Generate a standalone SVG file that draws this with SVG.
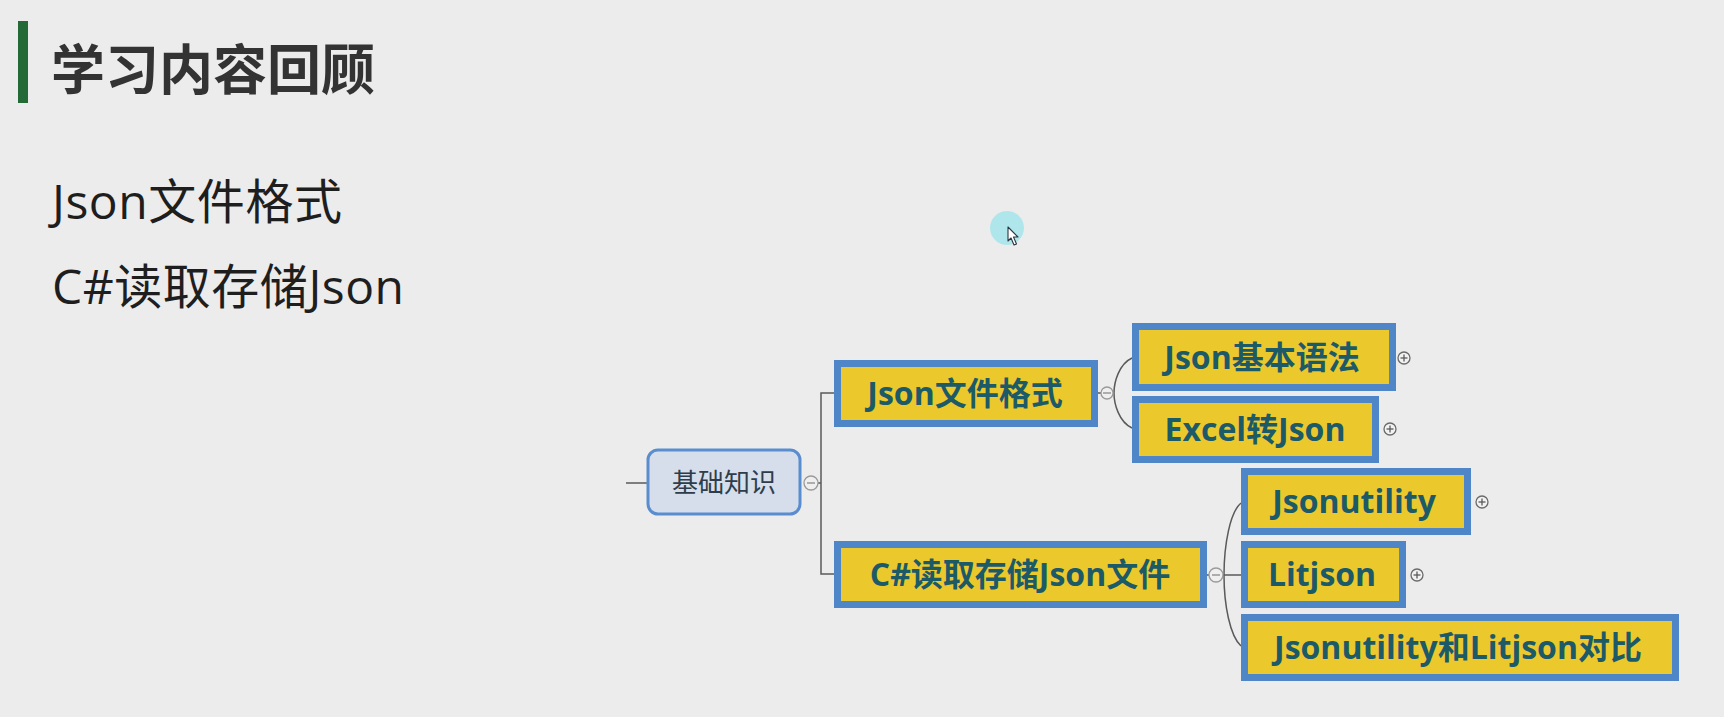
<svg xmlns="http://www.w3.org/2000/svg" width="1724" height="717" viewBox="0 0 1724 717">
  <style>
    .title { font-family: "Noto Sans CJK SC", sans-serif; font-weight: 700; font-size: 54px; fill: #333333; }
    .item { font-family: "Open Sans", "Noto Sans CJK SC", sans-serif; font-size: 48px; fill: #1e1e1e; }
    .topic rect { fill: #ebc92c; stroke: #4e86c8; stroke-width: 7; }
    .topic text { font-family: "Open Sans", "Noto Sans CJK SC", sans-serif; font-weight: 700; font-size: 32px; fill: #1d5a68; text-anchor: middle; }
    .root rect { fill: #d5deea; stroke: #5a8dcf; stroke-width: 3; }
    .root text { font-family: "Noto Sans CJK SC", sans-serif; font-size: 26px; fill: #2e3d4c; text-anchor: middle; }
    .conn { fill: none; stroke: #5a5a5a; stroke-width: 1.5; }
    .toggle circle { fill: #efefef; stroke: #9a9a9a; stroke-width: 1.3; }
    .toggle line { stroke: #8a8a8a; stroke-width: 1.3; }
    .plus circle { fill: #f2f2f2; stroke: #6a6a6a; stroke-width: 1.3; }
    .plus line { stroke: #5a5a5a; stroke-width: 1.3; }
  </style>
  <rect x="0" y="0" width="1724" height="717" fill="#ececec"/>

  <g id="header">
    <rect x="18" y="21" width="10" height="82" fill="#236a36"/>
    <text class="title" x="51" y="90">学习内容回顾</text>
  </g>
  <g id="bullets">
    <text class="item" x="52" y="219" textLength="290">Json文件格式</text>
    <text class="item" x="52" y="304" textLength="352">C#读取存储Json</text>
  </g>

  <g id="connectors">
    <line class="conn" x1="626" y1="483" x2="647" y2="483" stroke="#7a8ca2"/>
    <line class="conn" x1="818" y1="483" x2="821" y2="483"/>
    <path class="conn" d="M835,393 H821 V574 H835"/>
    <line class="conn" x1="1098" y1="393" x2="1101" y2="393"/>
    <path class="conn" d="M1132,358 C1119,364 1114,382 1114,393 C1114,404 1119,422 1132,428"/>
    <line class="conn" x1="1207" y1="575" x2="1209" y2="575"/>
    <line class="conn" x1="1223" y1="575" x2="1241" y2="575"/>
    <path class="conn" d="M1241,503 C1230,512 1224,545 1224,575 C1224,605 1230,636 1241,646"/>
  </g>

  <g id="node-root" class="root">
    <rect x="648" y="450" width="152" height="64" rx="10"/>
    <text x="724" y="492">基础知识</text>
  </g>
  <g id="toggle-root" class="toggle">
    <circle cx="811" cy="483" r="7"/>
    <line x1="807" y1="483" x2="815" y2="483"/>
  </g>

  <g id="node-json-format" class="topic">
    <rect x="837.5" y="363.5" width="257" height="60"/>
    <text x="965" y="405">Json文件格式</text>
  </g>
  <g id="toggle-json-format" class="toggle">
    <circle cx="1107" cy="393" r="6"/>
    <line x1="1103" y1="393" x2="1111" y2="393"/>
  </g>

  <g id="node-csharp" class="topic">
    <rect x="837.5" y="544.5" width="366" height="60"/>
    <text x="1020" y="586">C#读取存储Json文件</text>
  </g>
  <g id="toggle-csharp" class="toggle">
    <circle cx="1216" cy="575" r="7"/>
    <line x1="1212" y1="575" x2="1220" y2="575"/>
  </g>

  <g id="node-json-syntax" class="topic">
    <rect x="1135.5" y="326.5" width="257" height="61"/>
    <text x="1262" y="369">Json基本语法</text>
  </g>
  <g id="plus-json-syntax" class="plus">
    <circle cx="1404" cy="358" r="6"/>
    <line x1="1400.5" y1="358" x2="1407.5" y2="358"/>
    <line x1="1404" y1="354.5" x2="1404" y2="361.5"/>
  </g>

  <g id="node-excel" class="topic">
    <rect x="1135.5" y="399.5" width="240" height="60"/>
    <text x="1255" y="441">Excel转Json</text>
  </g>
  <g id="plus-excel" class="plus">
    <circle cx="1390" cy="429" r="6"/>
    <line x1="1386.5" y1="429" x2="1393.5" y2="429"/>
    <line x1="1390" y1="425.5" x2="1390" y2="432.5"/>
  </g>

  <g id="node-jsonutility" class="topic">
    <rect x="1244.5" y="471.5" width="223" height="60"/>
    <text x="1354" y="513">Jsonutility</text>
  </g>
  <g id="plus-jsonutility" class="plus">
    <circle cx="1482" cy="502" r="6"/>
    <line x1="1478.5" y1="502" x2="1485.5" y2="502"/>
    <line x1="1482" y1="498.5" x2="1482" y2="505.5"/>
  </g>

  <g id="node-litjson" class="topic">
    <rect x="1244.5" y="544.5" width="158" height="60"/>
    <text x="1322" y="586">Litjson</text>
  </g>
  <g id="plus-litjson" class="plus">
    <circle cx="1417" cy="575" r="6"/>
    <line x1="1413.5" y1="575" x2="1420.5" y2="575"/>
    <line x1="1417" y1="571.5" x2="1417" y2="578.5"/>
  </g>

  <g id="node-compare" class="topic">
    <rect x="1244.5" y="617.5" width="431" height="60"/>
    <text x="1458" y="659">Jsonutility和Litjson对比</text>
  </g>

  <g id="cursor">
    <circle cx="1007" cy="228" r="17" fill="#a9e6ec" opacity="0.9"/>
    <path d="M1008,227 L1008,241 L1011,238 L1014,245 L1016.5,244 L1013.5,237 L1018,237 Z" fill="#ffffff" stroke="#2a3540" stroke-width="1.1" stroke-linejoin="round"/>
  </g>
</svg>
